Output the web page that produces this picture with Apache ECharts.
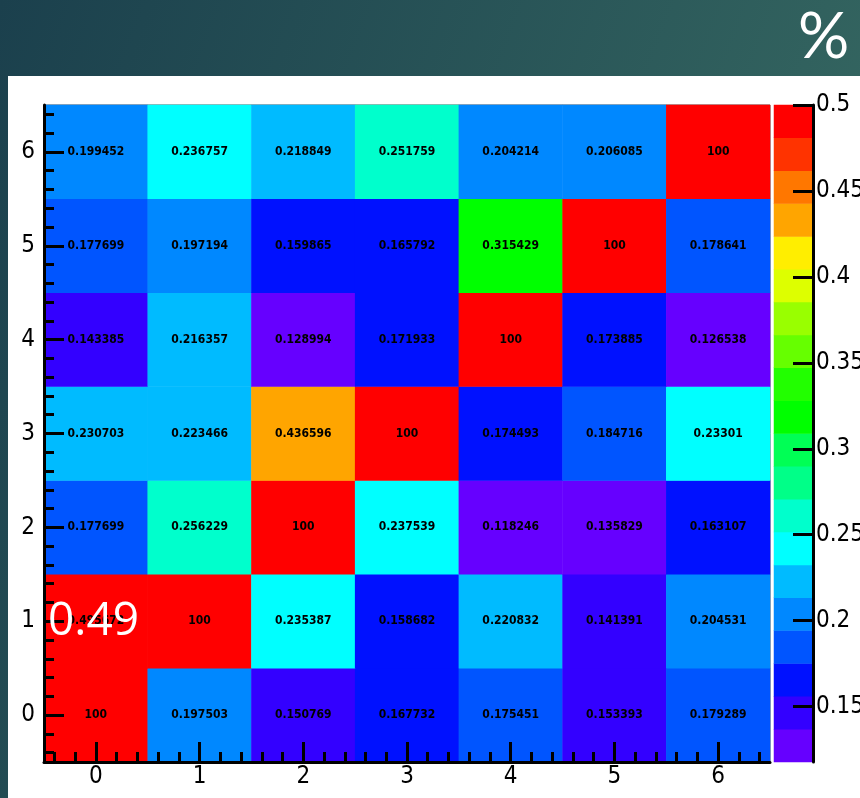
<!DOCTYPE html>
<html>
<head>
<meta charset="utf-8">
<script src="https://cdn.jsdelivr.net/npm/echarts@6/dist/echarts.min.js"></script>
<style>
html, body { margin: 0; padding: 0; }
#echart { width: 860px; height: 798px; }
</style>
</head>
<body>
<div id="echart"></div>
<script>
// categories
var xCats = ['0', '1', '2', '3', '4', '5', '6'];
var yCats = ['0', '1', '2', '3', '4', '5', '6'];
// cell values, one row per y bin (x = 0..6)
var rowY0 = [100, 0.197503, 0.150769, 0.167732, 0.175451, 0.153393, 0.179289];
var rowY1 = [0.495672, 100, 0.235387, 0.158682, 0.220832, 0.141391, 0.204531];
var rowY2 = [0.177699, 0.256229, 100, 0.237539, 0.118246, 0.135829, 0.163107];
var rowY3 = [0.230703, 0.223466, 0.436596, 100, 0.174493, 0.184716, 0.23301];
var rowY4 = [0.143385, 0.216357, 0.128994, 0.171933, 100, 0.173885, 0.126538];
var rowY5 = [0.177699, 0.197194, 0.159865, 0.165792, 0.315429, 100, 0.178641];
var rowY6 = [0.199452, 0.236757, 0.218849, 0.251759, 0.204214, 0.206085, 100];
// axis ticks
var axisTicks = [0, 1, 2, 3, 4, 5, 6];
var paletteTicks = [0.15, 0.2, 0.25, 0.3, 0.35, 0.4, 0.45, 0.5];
// colour scale (20 contours, bottom -> top)
var paletteMin = 0.1178;
var paletteMax = 0.5;
var paletteColors = ['#6600ff', '#3300ff', '#0011ff', '#0055ff', '#0088ff',
	'#00bbff', '#00ffff', '#00ffcc', '#00ff88', '#00ff55', '#00ff00', '#22ff00',
	'#66ff00', '#99ff00', '#ddff00', '#ffee00', '#ffa500', '#ff7700', '#ff3300', '#ff0000'];
var overlayText = '0.49';
var unitText = '%';

var rows = [rowY0, rowY1, rowY2, rowY3, rowY4, rowY5, rowY6];
var cellData = [];
for (var j = 0; j < rows.length; j++) {
	for (var i = 0; i < rows[j].length; i++) {
		cellData.push([i, j, rows[j][i]]);
	}
}

// contour edges and the colour bar cells
var step = (paletteMax - paletteMin) / paletteColors.length;
var pieces = [];
var barCats = [];
var barData = [];
for (var k = 0; k < paletteColors.length; k++) {
	var lo = paletteMin + k * step;
	var piece = { color: paletteColors[k] };
	if (k > 0) piece.gte = lo;
	if (k < paletteColors.length - 1) piece.lt = lo + step;
	pieces.push(piece);
	barCats.push('b' + k);
	barData.push([0, k, lo + step / 2]);
}

// minor ticks every 0.2 bin
var minorTicks = [];
for (var m = -2; m <= 32; m++) {
	if (m % 5 !== 0) minorTicks.push(m / 5);
}

var axisFont = "'DejaVu Sans Condensed', 'Liberation Sans', sans-serif";
var cellFont = "'DejaVu Sans Condensed', 'Liberation Sans', sans-serif";

var myChart = echarts.init(document.getElementById('echart'));
var option = {
	backgroundColor: new echarts.graphic.LinearGradient(0, 0, 1, 0.4, [
		{ offset: 0, color: '#1b404d' },
		{ offset: 1, color: '#356761' }
	]),
	animation: false,
	graphic: {
		elements: [{
			type: 'rect',
			z: -10,
			shape: { x: 8, y: 76, width: 852, height: 722 },
			style: { fill: '#ffffff' }
		}, {
			type: 'text',
			z: 100,
			x: 48,
			y: 622,
			style: {
				text: overlayText,
				fill: '#ffffff',
				font: "46px 'Open Sans', sans-serif",
				verticalAlign: 'middle'
			}
		}, {
			type: 'text',
			z: 100,
			x: 798,
			y: 37,
			style: {
				text: unitText,
				fill: '#ffffff',
				font: "64px 'Lato', 'Open Sans', sans-serif",
				verticalAlign: 'middle'
			}
		}]
	},
	grid: [{
		left: 44, top: 105, width: 726, height: 657,
		outerBoundsMode: 'none',
		show: true, borderColor: '#555', borderWidth: 1, backgroundColor: 'transparent'
	}, {
		left: 774, top: 105, width: 39, height: 657,
		outerBoundsMode: 'none'
	}],
	visualMap: {
		type: 'piecewise',
		show: false,
		seriesIndex: [0, 1],
		dimension: 2,
		pieces: pieces
	},
	xAxis: [{
		type: 'category', gridIndex: 0, data: xCats, show: false
	}, {
		type: 'value', gridIndex: 0, min: -0.5, max: 6.5, position: 'bottom', z: 10,
		axisLine: { show: true, onZero: false, lineStyle: { color: '#000', width: 3 } },
		axisTick: { show: true, inside: true, length: 20, customValues: axisTicks, lineStyle: { color: '#000', width: 3 } },
		axisLabel: { customValues: axisTicks, margin: 3, fontSize: 24, fontFamily: axisFont, color: '#000' },
		splitLine: { show: false }
	}, {
		type: 'value', gridIndex: 0, min: -0.5, max: 6.5, position: 'bottom', z: 10,
		axisLine: { show: false, onZero: false },
		axisTick: { show: true, inside: true, length: 10, customValues: minorTicks, lineStyle: { color: '#000', width: 3 } },
		axisLabel: { show: false },
		splitLine: { show: false }
	}, {
		type: 'category', gridIndex: 1, data: ['c'], show: false
	}],
	yAxis: [{
		type: 'category', gridIndex: 0, data: yCats, show: false
	}, {
		type: 'value', gridIndex: 0, min: -0.5, max: 6.5, position: 'left', z: 10,
		axisLine: { show: true, onZero: false, lineStyle: { color: '#000', width: 3 } },
		axisTick: { show: true, inside: true, length: 20, customValues: axisTicks, lineStyle: { color: '#000', width: 3 } },
		axisLabel: { customValues: axisTicks, margin: 9, fontSize: 24, fontFamily: axisFont, color: '#000' },
		splitLine: { show: false }
	}, {
		type: 'value', gridIndex: 0, min: -0.5, max: 6.5, position: 'left', z: 10,
		axisLine: { show: false, onZero: false },
		axisTick: { show: true, inside: true, length: 10, customValues: minorTicks, lineStyle: { color: '#000', width: 3 } },
		axisLabel: { show: false },
		splitLine: { show: false }
	}, {
		type: 'category', gridIndex: 1, data: barCats, show: false
	}, {
		type: 'value', gridIndex: 1, min: paletteMin, max: paletteMax, position: 'right', z: 10,
		axisLine: { show: true, onZero: false, lineStyle: { color: '#000', width: 3 } },
		axisTick: { show: true, inside: true, length: 20, customValues: paletteTicks, lineStyle: { color: '#000', width: 3 } },
		axisLabel: { customValues: paletteTicks, margin: 3, fontSize: 24, fontFamily: axisFont, color: '#000' },
		splitLine: { show: false }
	}],
	series: [{
		name: 'cells',
		type: 'heatmap',
		xAxisIndex: 0,
		yAxisIndex: 0,
		data: cellData,
		label: {
			show: true,
			formatter: function (p) { return String(p.value[2]); },
			fontSize: 12,
			fontWeight: 'bold',
			fontFamily: cellFont,
			color: '#000'
		},
		emphasis: { disabled: true }
	}, {
		name: 'palette',
		type: 'heatmap',
		xAxisIndex: 3,
		yAxisIndex: 3,
		data: barData,
		emphasis: { disabled: true }
	}]
};
myChart.setOption(option);
</script>
</body>
</html>
